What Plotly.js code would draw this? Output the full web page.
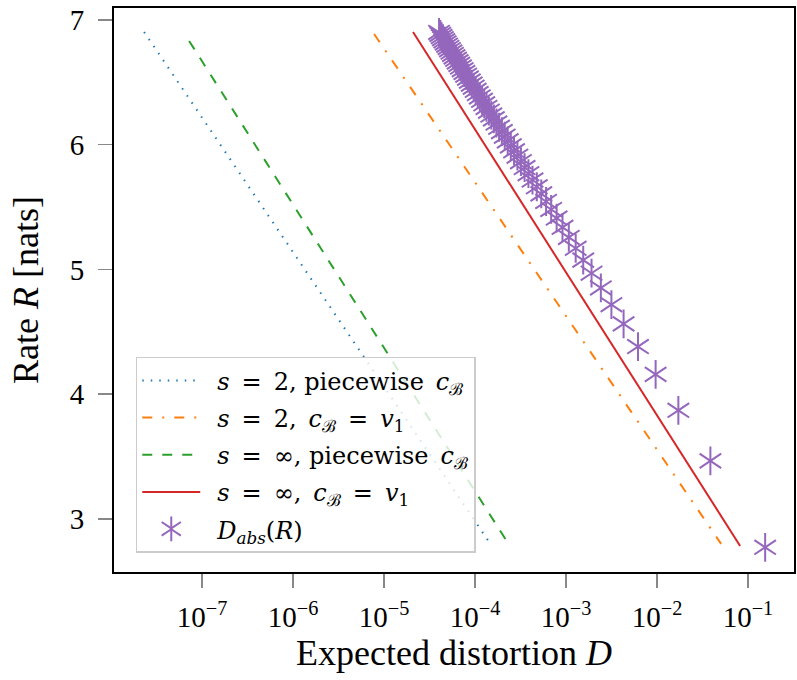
<!DOCTYPE html>
<html>
<head>
<meta charset="utf-8">
<script src="https://cdn.plot.ly/plotly-3.0.1.min.js"></script>
<style>html,body{margin:0;padding:0;background:#fff}#chart{width:797px;height:680px}</style>
</head>
<body>
<div id="chart"></div>
<script>
// Series
const blueD = [2.30e-8, 1.50e-4];   // s=2, piecewise
const blueR = [6.904, 2.792];
const orangeD = [7.76e-6, 0.0507];  // s=2, c=v1
const orangeR = [6.888, 2.800];
const greenD = [7.19e-8, 2.37e-4];  // s=inf, piecewise
const greenR = [6.832, 2.792];
const redD = [2.08e-5, 0.0820];     // s=inf, c=v1
const redR = [6.904, 2.784];

const absR = [2.773,3.466,3.871,4.159,4.382,4.564,4.718,4.852,4.970,5.075,
  5.170,5.257,5.338,5.412,5.481,5.545,5.606,5.663,5.717,5.768,
  5.817,5.864,5.908,5.951,5.991,6.031,6.068,6.105,6.140,6.174,
  6.207,6.238,6.269,6.299,6.328,6.356,6.383,6.410,6.436,6.461,
  6.486,6.510,6.534,6.557,6.579,6.601,6.623,6.644,6.664,6.685,
  6.704,6.724,6.743,6.762,6.780,6.798,6.816,6.833,6.850,6.867,
  6.884,6.900];
const absD = [0.1545,0.03863,0.01717,0.009656,0.006180,0.004292,0.003153,0.002414,0.001907,0.001545,
  0.001277,0.001073,0.0009142,0.0007883,0.0006867,0.0006035,0.0005346,0.0004769,0.0004280,0.0003863,
  0.0003503,0.0003192,0.0002921,0.0002682,0.0002472,0.0002285,0.0002119,0.0001971,0.0001837,0.0001717,
  0.0001608,0.0001509,0.0001419,0.0001336,0.0001261,0.0001192,0.0001129,0.0001070,0.0001016,0.00009656,
  0.00009191,0.00008759,0.00008356,0.00007980,0.00007630,0.00007302,0.00006994,0.00006706,0.00006435,0.00006180,
  0.00005940,0.00005714,0.00005500,0.00005298,0.00005107,0.00004927,0.00004755,0.00004593,0.00004438,0.00004292,
  0.00004152,0.00004019];

const xTickVals = [1e-7,1e-6,1e-5,1e-4,1e-3,1e-2,1e-1];
const xTickText = ['10<sup>−7</sup>','10<sup>−6</sup>','10<sup>−5</sup>','10<sup>−4</sup>','10<sup>−3</sup>','10<sup>−2</sup>','10<sup>−1</sup>'];
const yTickVals = [3,4,5,6,7];
const yTickText = ['3','4','5','6','7'];

const EQ = '\u2002=\u2002';
const PRE = '\u2002';
const names = [
  PRE + '<i>s</i>' + EQ + '2, piecewise\u2002<i>c</i><sub>ℬ</sub>',
  PRE + '<i>s</i>' + EQ + '2,\u2002<i>c</i><sub>ℬ</sub>' + EQ + '<i>v</i><sub>1</sub>',
  PRE + '<i>s</i>' + EQ + '∞, piecewise\u2002<i>c</i><sub>ℬ</sub>',
  PRE + '<i>s</i>' + EQ + '∞,\u2002<i>c</i><sub>ℬ</sub>' + EQ + '<i>v</i><sub>1</sub>',
  PRE + '<i>D</i><sub><i>abs</i></sub>(<i>R</i>)'
];

const FONT = 'Liberation Serif, DejaVu Serif, serif';
const LFONT = 'DejaVu Serif, Liberation Serif, serif';
const purple = '#9467bd';

const traces = [
  {x: blueD, y: blueR, mode: 'lines', name: names[0], legendgroup: 'a',
   line: {color: '#1f77b4', width: 2, dash: '1.5px,7px'}},
  {x: orangeD, y: orangeR, mode: 'lines', name: names[1], legendgroup: 'b',
   line: {color: '#ff7f0e', width: 2, dash: '10px,10px,2px,10px'}},
  {x: greenD, y: greenR, mode: 'lines', name: names[2], legendgroup: 'c',
   line: {color: '#2ca02c', width: 2, dash: '10px,10px'}},
  {x: redD, y: redR, mode: 'lines', name: names[3], legendgroup: 'd',
   line: {color: '#d62728', width: 2}},
  {x: absD, y: absR, mode: 'markers', name: names[4], legendgroup: 'e',
   marker: {symbol: 'y-up-open', size: 18, color: purple, line: {color: purple, width: 2}}},
  {x: absD, y: absR, mode: 'markers', name: names[4], legend: 'legend2',
   marker: {symbol: 'y-down-open', size: 18, color: purple, line: {color: purple, width: 2}}}
];

const legendCommon = {
  x: 0.032, y: 0.034, xanchor: 'left', yanchor: 'bottom',
  borderwidth: 1.5, font: {family: LFONT, size: 24, color: '#000'},
  itemwidth: 58, tracegroupgap: 3
};

const layout = {
  width: 797, height: 680,
  margin: {l: 114, r: 3, t: 8, b: 108},
  paper_bgcolor: '#fff', plot_bgcolor: '#fff',
  font: {family: FONT, size: 27, color: '#000'},
  showlegend: true,
  xaxis: {
    type: 'log', range: [-7.969, -0.494],
    tickvals: xTickVals, ticktext: xTickText,
    ticks: 'outside', ticklen: 14, tickwidth: 1.5, tickcolor: '#888',
    ticklabelstandoff: 4,
    showline: true, mirror: true, linecolor: '#000', linewidth: 2,
    showgrid: false, zeroline: false,
    tickfont: {family: FONT, size: 29},
    title: {text: 'Expected distortion <i>D</i>', font: {family: FONT, size: 36}, standoff: 8}
  },
  yaxis: {
    range: [2.575, 7.096],
    tickvals: yTickVals, ticktext: yTickText,
    ticks: 'outside', ticklen: 14, tickwidth: 1.5, tickcolor: '#888',
    ticklabelstandoff: 8,
    showline: true, mirror: true, linecolor: '#000', linewidth: 2,
    showgrid: false, zeroline: false,
    tickfont: {family: FONT, size: 29},
    title: {text: 'Rate <i>R</i> [nats]', font: {family: FONT, size: 36}, standoff: 20}
  },
  legend: Object.assign({}, legendCommon, {bgcolor: 'rgba(255,255,255,0.8)', bordercolor: '#cccccc'}),
  legend2: Object.assign({}, legendCommon, {bgcolor: 'rgba(0,0,0,0)', bordercolor: 'rgba(0,0,0,0)',
    font: {family: LFONT, size: 24, color: 'rgba(0,0,0,0)'}})
};

Plotly.newPlot('chart', traces, layout, {displayModeBar: false, staticPlot: true});
</script>
</body>
</html>
